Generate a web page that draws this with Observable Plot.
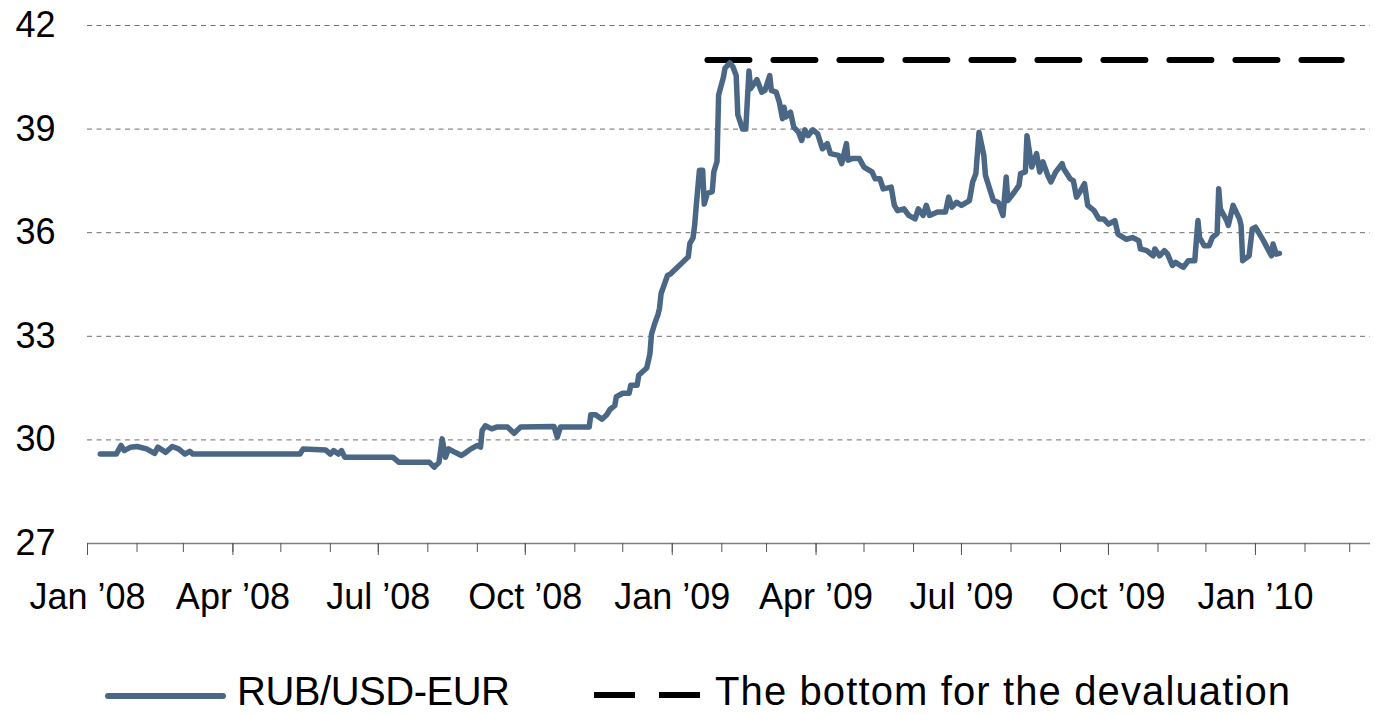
<!DOCTYPE html>
<html>
<head>
<meta charset="utf-8">
<script src="https://cdn.jsdelivr.net/npm/d3@7"></script>
<script src="https://cdn.jsdelivr.net/npm/@observablehq/plot@0.6"></script>
<style>
  html, body { margin: 0; padding: 0; background: #fff; overflow: hidden; }
  #wrap { width: 1384px; height: 714px; position: relative; font-family: "Liberation Sans", Arial, sans-serif; }
  #legend { display: block; }
</style>
</head>
<body>
<div id="wrap">
  <div id="chart"></div>
  <svg id="legend" width="1384" height="64"></svg>
</div>
<script>
// ---- data ----
const seriesNames = ["RUB/USD-EUR", "The bottom for the devaluation"];

const dates = [
"2008-01-09","2008-01-19","2008-01-22","2008-01-24","2008-01-28","2008-02-01","2008-02-07","2008-02-12","2008-02-14","2008-02-19",
"2008-02-23","2008-02-27","2008-03-02","2008-03-05","2008-03-07","2008-05-13","2008-05-15","2008-05-29","2008-06-01","2008-06-03",
"2008-06-06","2008-06-08","2008-06-10","2008-07-10","2008-07-14","2008-08-02","2008-08-05","2008-08-08","2008-08-10","2008-08-12",
"2008-08-14","2008-08-18","2008-08-22","2008-08-25","2008-08-28","2008-09-01","2008-09-03","2008-09-04","2008-09-06","2008-09-10",
"2008-09-13","2008-09-20","2008-09-24","2008-09-28","2008-10-19","2008-10-21","2008-10-23","2008-11-10",
"2008-11-11","2008-11-14","2008-11-18","2008-11-21","2008-11-23","2008-11-26","2008-11-27","2008-12-01","2008-12-05","2008-12-06",
"2008-12-10","2008-12-11","2008-12-16","2008-12-18","2008-12-19","2008-12-21","2008-12-23","2008-12-24","2008-12-25","2008-12-29",
"2008-12-31","2009-01-11","2009-01-12","2009-01-14","2009-01-15","2009-01-16","2009-01-18","2009-01-20","2009-01-21","2009-01-23",
"2009-01-26","2009-01-27","2009-01-29","2009-01-30","2009-02-02","2009-02-03","2009-02-06","2009-02-08","2009-02-10","2009-02-11",
"2009-02-14","2009-02-16","2009-02-18",
"2009-02-19","2009-02-23","2009-02-26","2009-02-28","2009-03-03","2009-03-04","2009-03-07","2009-03-09","2009-03-11","2009-03-12",
"2009-03-13","2009-03-16","2009-03-18","2009-03-21","2009-03-23","2009-03-25","2009-03-27","2009-03-30","2009-04-02","2009-04-05",
"2009-04-08","2009-04-10","2009-04-15","2009-04-17","2009-04-20","2009-04-21","2009-04-24","2009-04-28","2009-05-01","2009-05-06",
"2009-05-08","2009-05-11","2009-05-13","2009-05-18","2009-05-20","2009-05-22","2009-05-26","2009-05-29","2009-06-02","2009-06-04",
"2009-06-07","2009-06-09","2009-06-11","2009-06-16","2009-06-21","2009-06-23","2009-06-25","2009-06-28","2009-07-01","2009-07-06",
"2009-07-08","2009-07-10","2009-07-12","2009-07-15","2009-07-16","2009-07-19","2009-07-21","2009-07-24","2009-07-27","2009-07-29",
"2009-07-30","2009-08-03","2009-08-06","2009-08-07","2009-08-10","2009-08-11","2009-08-14","2009-08-17","2009-08-19","2009-08-21",
"2009-08-24","2009-08-26","2009-08-29","2009-09-02","2009-09-03","2009-09-07","2009-09-09","2009-09-11","2009-09-13","2009-09-16",
"2009-09-18","2009-09-22","2009-09-25","2009-09-28","2009-10-01","2009-10-05","2009-10-07","2009-10-12","2009-10-16","2009-10-20",
"2009-10-21","2009-10-25","2009-10-29","2009-10-30","2009-11-02","2009-11-05","2009-11-07","2009-11-10","2009-11-12","2009-11-15",
"2009-11-17","2009-11-20","2009-11-24","2009-11-26","2009-11-27","2009-11-30","2009-12-03","2009-12-05","2009-12-08","2009-12-09",
"2009-12-10","2009-12-14","2009-12-15","2009-12-18","2009-12-22","2009-12-23","2009-12-24","2009-12-28","2009-12-30","2010-01-01",
"2010-01-06","2010-01-11","2010-01-12","2010-01-14","2010-01-16"
];

const values = [
29.59,29.59,29.84,29.69,29.79,29.81,29.74,29.61,29.79,29.64,
29.81,29.74,29.59,29.67,29.59,29.59,29.74,29.71,29.59,29.69,
29.59,29.69,29.50,29.50,29.35,29.35,29.21,29.35,30.03,29.50,
29.74,29.64,29.55,29.64,29.74,29.84,29.79,30.27,30.41,30.32,
30.37,30.37,30.19,30.37,30.39,30.08,30.37,30.37,
30.73,30.73,30.60,30.73,30.88,30.99,31.25,31.35,31.35,31.58,
31.58,31.87,32.08,32.49,33.06,33.37,33.62,33.81,34.24,34.76,
34.81,35.30,35.69,35.85,36.21,36.78,37.81,37.81,36.83,37.14,
37.19,37.76,38.06,39.99,40.50,40.76,40.92,40.80,40.55,39.42,
39.00,39.00,40.68,
40.17,40.43,40.07,40.12,40.55,40.12,40.07,39.78,39.30,39.63,
39.35,39.49,39.06,38.91,38.67,38.98,38.81,38.98,38.86,38.43,
38.58,38.29,38.24,38.00,38.58,38.10,38.15,38.15,37.90,37.76,
37.56,37.56,37.27,37.32,36.79,36.64,36.69,36.50,36.40,36.69,
36.50,36.79,36.50,36.60,36.60,37.03,36.74,36.88,36.79,36.93,
37.47,37.71,38.91,38.24,37.66,37.22,36.93,36.88,36.50,37.61,
36.93,37.17,37.37,37.71,37.76,38.81,37.90,38.29,37.76,38.05,
37.66,37.47,37.76,38.00,37.85,37.56,37.51,37.03,37.17,37.42,
36.79,36.64,36.40,36.40,36.25,36.35,35.96,35.81,35.86,35.77,
35.53,35.48,35.33,35.53,35.33,35.48,35.38,35.05,35.14,35.05,
35.00,35.19,35.19,36.35,35.86,35.62,35.62,35.86,35.98,37.27,
36.69,36.35,36.21,36.79,36.40,36.21,35.19,35.33,36.11,36.16,
35.77,35.33,35.67,35.38,35.40
];

const bottomDates = ["2009-01-23", "2010-02-24"];
const bottomValue = 41;

const yTicks = [27, 30, 33, 36, 39, 42];
const xStart = "2008-01-01";
const xEnd = "2010-03-14";
const lastTick = "2010-03-01";

// ---- build ----
const series = dates.map((d, i) => ({date: new Date(d), value: values[i]}));
const bottom = bottomDates.map(d => ({date: new Date(d), value: bottomValue}));
const months = d3.utcMonth.range(new Date(xStart), d3.utcDay.offset(new Date(lastTick), 1));
const quarters = months.filter(d => d.getUTCMonth() % 3 === 0);
const fmt = d3.utcFormat("%b \u2019%y");

const lineColor = "#4b6786";
const font = "'Liberation Sans', Arial, sans-serif";

const chart = Plot.plot({
  width: 1384,
  height: 650,
  marginLeft: 87,
  marginRight: 14,
  marginTop: 25,
  marginBottom: 107,
  x: {type: "utc", domain: [new Date(xStart), new Date(xEnd)]},
  y: {domain: [27, 42]},
  style: {fontFamily: font, fontSize: "36px", color: "#000", background: "#fff", overflow: "visible"},
  marks: [
    Plot.ruleY(yTicks.filter(v => v > 27), {stroke: "#6e6e6e", strokeWidth: 1, strokeDasharray: "5,4.5"}),
    Plot.ruleY([27], {stroke: "#7f7f7f", strokeWidth: 1.5}),
    Plot.axisX(months, {tickSize: 9, tickFormat: () => "", stroke: "#555", strokeWidth: 1, label: null}),
    Plot.axisX(quarters, {tickSize: 12, tickPadding: 28, tickFormat: fmt, stroke: "#555", strokeWidth: 1, fontSize: 36, fill: "#000", label: null}),
    Plot.axisY(yTicks, {tickSize: 0, tickPadding: 32, fontSize: 36, fill: "#000", label: null}),
    Plot.line(bottom, {x: "date", y: "value", stroke: "#000", strokeWidth: 6, strokeDasharray: "42,24"}),
    Plot.line(series, {x: "date", y: "value", stroke: lineColor, strokeWidth: 5.5, strokeLinejoin: "round", strokeLinecap: "round"})
  ]
});
document.getElementById("chart").appendChild(chart);

// ---- legend ----
const leg = d3.select("#legend");
leg.append("line").attr("x1", 108).attr("x2", 223).attr("y1", 46).attr("y2", 46)
  .attr("stroke", lineColor).attr("stroke-width", 6).attr("stroke-linecap", "round");
leg.append("text").attr("x", 237).attr("y", 55).attr("font-family", font).attr("font-size", 40)
  .attr("textLength", 273).attr("lengthAdjust", "spacing")
  .attr("fill", "#000").text(seriesNames[0]);
leg.append("line").attr("x1", 594).attr("x2", 701).attr("y1", 45).attr("y2", 45)
  .attr("stroke", "#000").attr("stroke-width", 6).attr("stroke-dasharray", "41,24");
leg.append("text").attr("x", 715).attr("y", 55).attr("font-family", font).attr("font-size", 40)
  .attr("textLength", 575).attr("lengthAdjust", "spacing")
  .attr("fill", "#000").text(seriesNames[1]);
</script>
</body>
</html>
